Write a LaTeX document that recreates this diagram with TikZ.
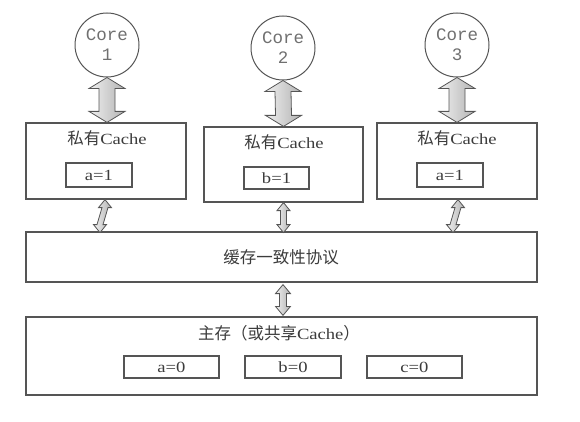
\documentclass[tikz,border=0pt]{standalone}
\usepackage{fontspec}
\setmainfont{Liberation Serif}[FakeStretch=1.2]
\setmonofont{Liberation Mono}
\newfontfamily\cjk{Noto Sans CJK SC}
\usetikzlibrary{calc}
\definecolor{ln}{HTML}{555555}
\definecolor{tx}{HTML}{3C3C3C}
\definecolor{cx}{HTML}{707070}
% #1 top tip, #2 bottom tip, #3 half shaft, #4 half head, #5 head length
\newcommand\dbarrow[5]{%
  \draw[barrow] (#1) -- ($(#1)+(#4,#5)$) -- ($(#1)+(#3,#5)$) -- ($(#2)+(#3,-#5)$)
    -- ($(#2)+(#4,-#5)$) -- (#2) -- ($(#2)+(-#4,-#5)$) -- ($(#2)+(-#3,-#5)$)
    -- ($(#1)+(-#3,#5)$) -- ($(#1)+(-#4,#5)$) -- cycle;}
\newcommand\zh[1]{{\cjk\fontsize{16.5}{18}\selectfont #1}}
\begin{document}
\begin{tikzpicture}[x=1pt,y=-1pt,
  box/.style={draw=ln, line width=1.2pt, fill=white, inner sep=0pt},
  core/.style={draw=ln, line width=1pt, circle, minimum size=64pt, inner sep=0pt,
    align=center, text=cx, font=\ttfamily\fontsize{17.5}{20}\selectfont},
  ttl/.style={text=tx, font=\fontsize{15.5}{18}\selectfont, inner sep=0pt},
  val/.style={draw=ln, line width=1.1pt, text=tx, inner sep=0pt,
    font=\fontsize{15.5}{18}\selectfont},
  barrow/.style={draw=ln, line width=0.8pt, left color=gray!12, right color=gray!60}]
\useasboundingbox (0,0) rectangle (580,422);

% cores
\node[core] (c1) at (107,45) {Core\\1};
\node[core] (c2) at (283,48) {Core\\2};
\node[core] (c3) at (457,45) {Core\\3};

% private caches
\node[box, minimum width=160pt, minimum height=76pt] (k1) at (106,161) {};
\node[box, minimum width=159pt, minimum height=75pt] (k2) at (283.5,164.5) {};
\node[box, minimum width=160pt, minimum height=76pt] (k3) at (457,161) {};
\node[ttl] (k1t) at (107,138) {\zh{私有}Cache};
\node[ttl] (k2t) at (284,142) {\zh{私有}Cache};
\node[ttl] (k3t) at (457,138) {\zh{私有}Cache};
\node[val, minimum width=66pt, minimum height=24pt] (k1v) at (99,175) {a=1};
\node[val, minimum width=65pt, minimum height=22pt] (k2v) at (276.5,178) {b=1};
\node[val, minimum width=66pt, minimum height=24pt] (k3v) at (450,175) {a=1};

% protocol
\node[box, minimum width=511pt, minimum height=50pt] (p) at (281.5,257) {};
\node[ttl] (pt) at (281,257) {\zh{缓存一致性协议}};

% main memory
\node[box, minimum width=511pt, minimum height=78pt] (m) at (281.5,356) {};
\node[ttl] (mt) at (279,333) {\zh{主存（或共享}Cache\zh{）}};
\node[val, minimum width=95pt, minimum height=22pt] (m1) at (171.5,367) {a=0};
\node[val, minimum width=96pt, minimum height=22pt] (m2) at (293,367) {b=0};
\node[val, minimum width=95pt, minimum height=22pt] (m3) at (414.5,367) {c=0};

% arrow end points
\coordinate (a1t) at (c1.south);
\coordinate (a1b) at ($(k1.north)+(1,0)$);
\coordinate (a2t) at (c2.south);
\coordinate (a2b) at (k2.north);
\coordinate (a3t) at (c3.south);
\coordinate (a3b) at (k3.north);
\coordinate (s1t) at ($(k1.south)+(-1,0)$);
\coordinate (s1b) at ($(k1.south)+(-6,33)$);
\coordinate (s2t) at (k2.south);
\coordinate (s2b) at ($(k2.south)+(0,30)$);
\coordinate (s3t) at ($(k3.south)+(1,0)$);
\coordinate (s3b) at ($(k3.south)+(-4,33)$);
\coordinate (mpt) at ($(p.south)+(1.5,2)$);
\coordinate (mpb) at ($(m.north)+(1.5,-1)$);

\dbarrow{a1t}{a1b}{8}{18}{11}
\dbarrow{a2t}{a2b}{8}{18}{11}
\dbarrow{a3t}{a3b}{8}{18}{11}
\dbarrow{s1t}{s1b}{3}{6.5}{8}
\dbarrow{s2t}{s2b}{3}{6.5}{8}
\dbarrow{s3t}{s3b}{3}{6.5}{8}
\dbarrow{mpt}{mpb}{3.5}{7.5}{9}
\end{tikzpicture}
\end{document}
